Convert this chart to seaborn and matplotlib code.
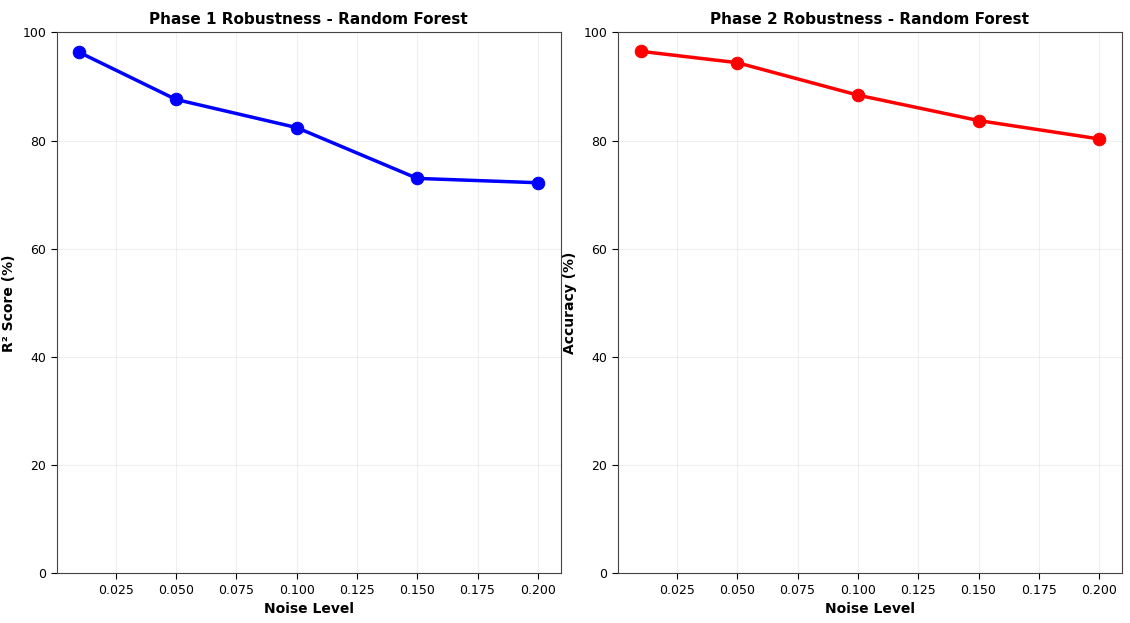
import pandas as pd
import seaborn as sns
import matplotlib.pyplot as plt

noise_levels = [0.01, 0.05, 0.10, 0.15, 0.20]
phase1_r2 = [96.3, 87.6, 82.4, 73.0, 72.2]
phase2_acc = [96.5, 94.4, 88.4, 83.7, 80.3]

df1 = pd.DataFrame({"Noise Level": noise_levels, "score": phase1_r2})
df2 = pd.DataFrame({"Noise Level": noise_levels, "score": phase2_acc})

sns.set_style("white")
plt.rcParams['font.family'] = ['DejaVu Sans']
plt.rcParams['text.color'] = 'black'
plt.rcParams['axes.labelcolor'] = 'black'
plt.rcParams['xtick.color'] = 'black'
plt.rcParams['ytick.color'] = 'black'

fig, axes = plt.subplots(1, 2, figsize=(11.3, 6.23), dpi=100)

panels = [
    (axes[0], df1, "blue", "Phase 1 Robustness - Random Forest", "R² Score (%)"),
    (axes[1], df2, "red", "Phase 2 Robustness - Random Forest", "Accuracy (%)"),
]
for ax, d, col, title, ylab in panels:
    sns.lineplot(data=d, x="Noise Level", y="score", ax=ax, color=col,
                 marker="o", markersize=9, linewidth=2.5, markeredgecolor=col)
    ax.set_ylim(0, 100)
    ax.grid(True, alpha=0.3)
    ax.set_title(title, fontsize=11, fontweight="bold")
    ax.set_xlabel("Noise Level", fontsize=10, fontweight="bold")
    ax.set_ylabel(ylab, fontsize=10, fontweight="bold")
    ax.yaxis.set_label_coords(-0.08, 0.5)
    ax.tick_params(labelsize=9, length=4, left=True, bottom=True)
    for s in ax.spines.values():
        s.set_color("#444444")

plt.subplots_adjust(left=0.05, right=0.993, top=0.948, bottom=0.08, wspace=0.113)
plt.savefig("out.png", dpi=100)
plt.close()
